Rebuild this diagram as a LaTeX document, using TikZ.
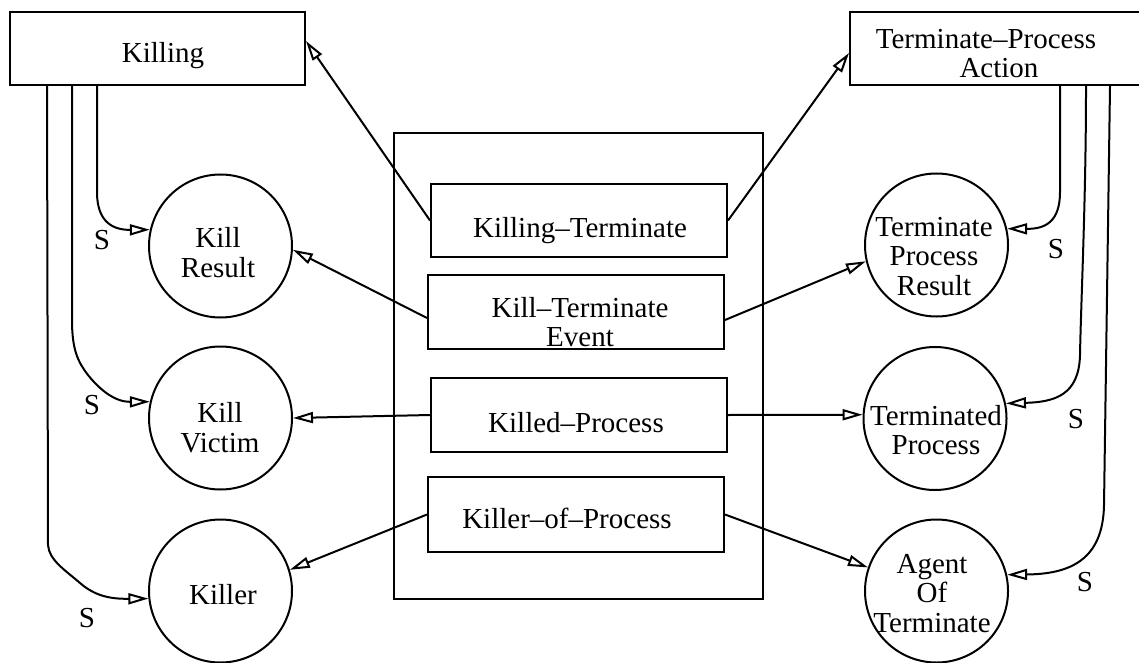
\documentclass[tikz,border=0pt]{standalone}
\usepackage{fontspec}
\setmainfont{Liberation Serif}
\usetikzlibrary{arrows.meta}
\tikzset{
  frame/.style={draw, rectangle, inner sep=0pt, line width=2pt},
  ring/.style={draw, circle, inner sep=0pt, minimum size=143pt, line width=2pt},
  lbl/.style={inner sep=0pt, align=center},
  link/.style={line width=2pt, -{Triangle[open, length=20pt, width=11pt]}},
}
\begin{document}
\begin{tikzpicture}[x=1pt, y=-1pt, font=\fontsize{29pt}{29.5pt}\selectfont]
\useasboundingbox (0,0) rectangle (1139,663);

% top boxes
\node[frame, minimum width=295pt, minimum height=73pt] (killing) at (157.5,48.5) {};
\node[lbl] (killingT) at (163,56) {Killing};
\node[frame, minimum width=300pt, minimum height=73pt] (tpabox) at (1000,48.5) {};
\node[lbl] (tpaT) at (986,53.5) {Terminate\textendash Process\\\hspace*{26pt}Action};

% central frame with the four relation boxes
\node[frame, minimum width=369pt, minimum height=466pt] (outer) at (578.5,366) {};
\node[frame, minimum width=296pt, minimum height=73pt] (kt)  at (579,220.5) {};
\node[frame, minimum width=296pt, minimum height=74pt] (kte) at (576,312) {};
\node[frame, minimum width=296pt, minimum height=74pt] (kp)  at (579,415) {};
\node[frame, minimum width=296pt, minimum height=75pt] (kop) at (576,514.5) {};
\node[lbl] (ktT)  at (580,231) {Killing\textendash Terminate};
\node[lbl] (kteT) at (580,322) {Kill\textendash Terminate\\Event};
\node[lbl] (kpT)  at (576,423) {Killed\textendash Process};
\node[lbl] (kopT) at (567,518) {Killer\textendash of\textendash Process};

% role circles, left side
\node[ring] (kres)   at (220.5,246) {};
\node[ring] (kv)     at (220.5,418) {};
\node[ring] (killer) at (220.5,591) {};
\node[lbl] (kresT)   at (218,252.5) {Kill\\Result};
\node[lbl] (kvT)     at (220,427.5) {Kill\\Victim};
\node[lbl] (killerT) at (223,595) {Killer};

% role circles, right side
\node[ring] (tpr)   at (936.5,245) {};
\node[ring] (tp)    at (935,418.5) {};
\node[ring] (agent) at (936.5,591) {};
\node[lbl] (tprT)   at (934,256.5) {Terminate\\Process\\Result};
\node[lbl] (tpT)    at (936,430) {Terminated\\Process};
\node[lbl] (agentT) at (932,593.5) {Agent\\Of\\Terminate};

% mapping links from the central boxes
\draw[link] (kt.west) -- ([yshift=7.5pt]killing.east);
\draw[link] (kt.east) -- ([yshift=-4.5pt]tpabox.west);
\draw[link] ([yshift=-6pt]kte.west) -- (kres.-3);
\draw[link] ([yshift=-8pt]kte.east) -- (tpr.193);
\draw[link] (kp.west) -- (kv.0);
\draw[link] (kp.east) -- (tp.177);
\draw[link] (kop.west) -- (killer.17);
\draw[link] (kop.east) -- (agent.161);

% S links, left
\draw[link] (97,0 |- killing.south) -- (97,192) .. controls (97,224) and (115,230) .. (kres.167);
\draw[link] (72,0 |- killing.south) -- (72,320) .. controls (72,350) and (78,362) .. (88,375)
  .. controls (100,390) and (115,402) .. (kv.167);
\draw[link] (47,0 |- killing.south) -- (48,545) .. controls (49,560) and (65,570) .. (80,583)
  .. controls (95,596) and (110,599) .. (killer.186);
\node[lbl] (sL1) at (102,240) {S};
\node[lbl] (sL2) at (92,405) {S};
\node[lbl] (sL3) at (87,618) {S};

% S links, right
\draw[link] (1060,0 |- tpabox.south) -- (1060,192) .. controls (1060,222) and (1045,229) .. (tpr.13);
\draw[link] (1086,0 |- tpabox.south) .. controls (1086,200) and (1081,300) .. (1080,355)
  .. controls (1079,395) and (1055,402) .. (tp.12);
\draw[link] (1110,0 |- tpabox.south) -- (1104,505) .. controls (1103,560) and (1070,574) .. (agent.13);
\node[lbl] (sR1) at (1056,249) {S};
\node[lbl] (sR2) at (1076,419) {S};
\node[lbl] (sR3) at (1085,582) {S};
\end{tikzpicture}
\end{document}
